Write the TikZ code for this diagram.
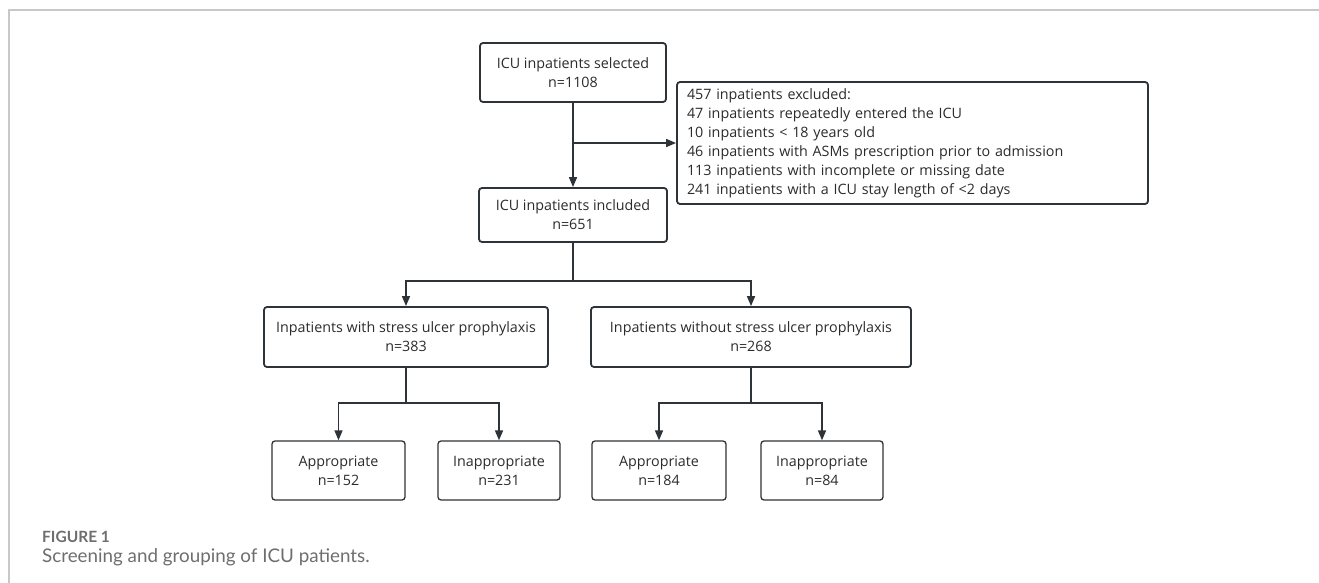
\documentclass[tikz,border=0pt]{standalone}
\usepackage{fontspec}
\setmainfont{Open Sans}
\newfontfamily\capfont{Lato}
\usetikzlibrary{calc,arrows.meta}
\definecolor{boxline}{HTML}{2E3338}
\definecolor{boxtext}{HTML}{2B2B2B}
\definecolor{framegray}{HTML}{C8C8C8}
\definecolor{capgray}{HTML}{6E6E6E}

\begin{document}
\begin{tikzpicture}[x=1pt,y=-1pt,
    box/.style={draw=boxline, line width=1.8pt, rounded corners=3pt, align=center, text=boxtext, inner sep=0pt, font=\fontsize{14.3}{19}\selectfont},
    smallbox/.style={box, line width=1.3pt},
    arr/.style={draw=boxline, line width=1.6pt, -{Triangle[length=10pt,width=8pt]}},
    link/.style={draw=boxline, line width=1.6pt}]
    \useasboundingbox (0,0) rectangle (1319,583);
    \draw [framegray, line width=2pt] (1319,10) -- (9,10) -- (9,583);
    \node [box, minimum width=186, minimum height=59] (sel) at (573,72.5) {ICU inpatients selected\\n=1108};
    \node [box, minimum width=471, minimum height=122, text width=451, align=left] (excl) at (912.5,143) {457 inpatients excluded:\\47 inpatients repeatedly entered the ICU\\10 inpatients < 18 years old\\46 inpatients with ASMs prescription prior to admission\\113 inpatients with incomplete or missing date\\241 inpatients with a ICU stay length of <2 days};
    \node [box, minimum width=188, minimum height=54] (inc) at (573,215) {ICU inpatients included\\n=651};
    \node [box, minimum width=284, minimum height=60] (pwith) at (406,337) {Inpatients with stress ulcer prophylaxis\\n=383};
    \node [box, minimum width=320, minimum height=60] (pwo) at (751,337) {Inpatients without stress ulcer prophylaxis\\n=268};
    \node [smallbox, minimum width=133, minimum height=59] (a1) at (338.5,470.5) {Appropriate\\n=152};
    \node [smallbox, minimum width=122, minimum height=59] (i1) at (499,470.5) {Inappropriate\\n=231};
    \node [smallbox, minimum width=134, minimum height=59] (a2) at (659,470.5) {Appropriate\\n=184};
    \node [smallbox, minimum width=122, minimum height=59] (i2) at (822,470.5) {Inappropriate\\n=84};
    \coordinate (b1) at (sel.south |- excl.west);
    \coordinate (j1) at (573,281);
    \coordinate (j2) at (406,403);
    \coordinate (j3) at (751,403);
    \draw [arr] (sel) -- (inc);
    \draw [arr] (b1) -- (excl.west);
    \draw [link] (inc) -- (j1);
    \draw [arr] (j1) -| (pwith);
    \draw [arr] (j1) -| (pwo);
    \draw [link] (pwith) -- (j2);
    \draw [arr] (j2) -| (a1);
    \draw [arr] (j2) -| (i1);
    \draw [link] (pwo) -- (j3);
    \draw [arr] (j3) -| (a2);
    \draw [arr] (j3) -| (i2);
    \node [anchor=base west, font=\capfont\bfseries\fontsize{15.5}{18}\selectfont, text=capgray, inner sep=0pt] (figlab) at (42,542) {FIGURE 1};
    \node [anchor=base west, font=\capfont\fontsize{18.8}{22}\selectfont, text=capgray, inner sep=0pt] (figcap) at (42,562) {Screening and grouping of ICU patients.};
\end{tikzpicture}
\end{document}
